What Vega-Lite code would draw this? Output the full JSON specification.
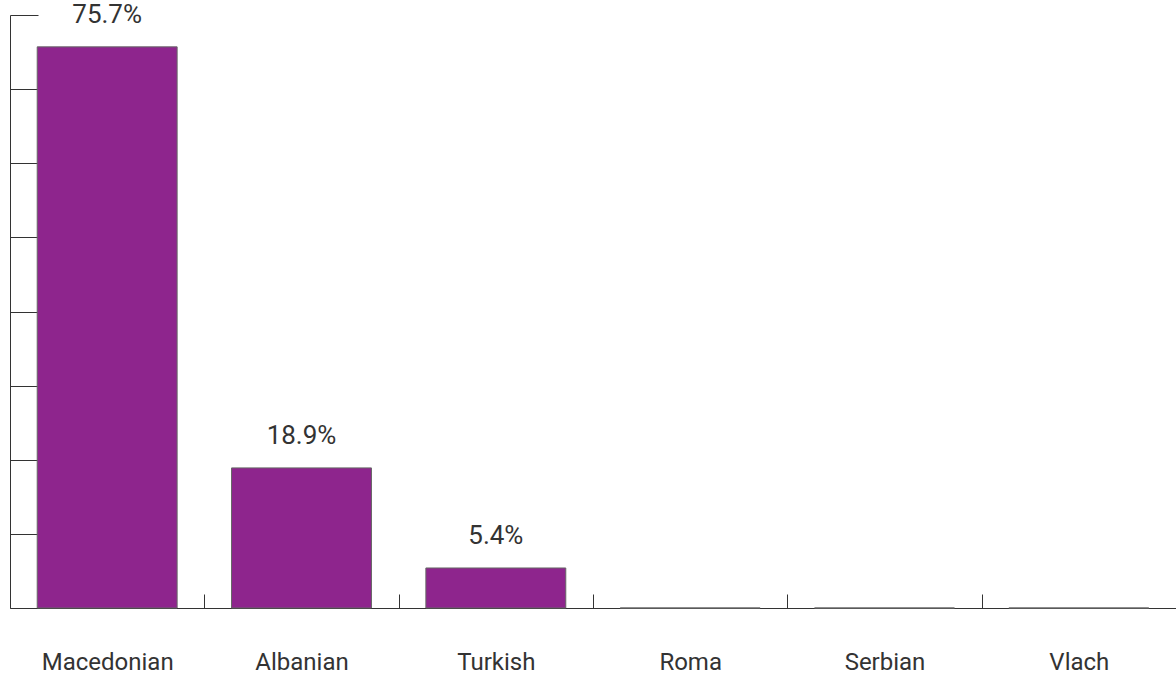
{
  "$schema": "https://vega.github.io/schema/vega-lite/v6.json",
  "width": 1166,
  "height": 593,
  "autosize": {"type": "none"},
  "padding": {"left": 10, "top": 15, "right": 0, "bottom": 67},
  "background": "white",
  "config": {"view": {"stroke": null}, "font": "Roboto"},
  "data": {"values": [
    {"group": "Macedonian", "value": 75.7, "label": "75.7%"},
    {"group": "Albanian", "value": 18.9, "label": "18.9%"},
    {"group": "Turkish", "value": 5.4, "label": "5.4%"},
    {"group": "Roma", "value": 0, "label": ""},
    {"group": "Serbian", "value": 0, "label": ""},
    {"group": "Vlach", "value": 0, "label": ""}
  ]},
  "encoding": {
    "x": {
      "field": "group", "type": "nominal", "sort": null,
      "scale": {"paddingInner": 0.28, "paddingOuter": 0.14},
      "axis": {
        "title": null, "labelAngle": 0, "labelFontSize": 24, "labelColor": "#333", "labelFontWeight": 400,
        "labelPadding": 56, "tickOffset": 97.2, "labelOffset": -97.2, "tickSize": -14, "tickColor": "#333",
        "domainColor": "#333", "labelFont": "Roboto"
      }
    },
    "y": {
      "field": "value", "type": "quantitative",
      "scale": {"domain": [0, 80], "nice": false},
      "axis": {
        "title": null, "labels": false, "values": [0, 10, 20, 30, 40, 50, 60, 70, 80],
        "tickSize": -28, "tickColor": "#333", "domainColor": "#333", "grid": false
      }
    }
  },
  "layer": [
    {"mark": {"type": "bar", "color": "#8E258D", "stroke": "#666", "strokeWidth": 1}},
    {
      "mark": {"type": "text", "baseline": "alphabetic", "dy": -24, "fontSize": 26, "fontWeight": 400, "color": "#333", "font": "Roboto"},
      "encoding": {"text": {"field": "label"}}
    }
  ]
}
